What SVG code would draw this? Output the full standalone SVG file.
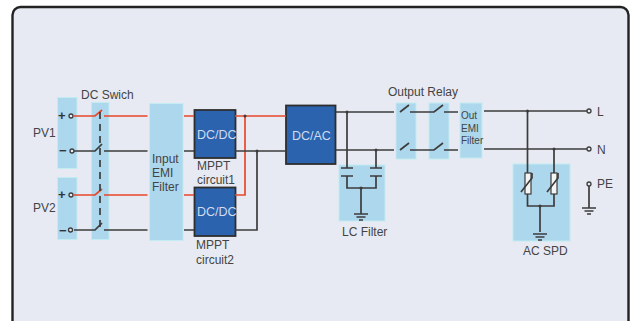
<svg xmlns="http://www.w3.org/2000/svg" width="635" height="321" viewBox="0 0 635 321">
<style>
text{font-family:"Liberation Sans",Arial,sans-serif;font-size:12px;fill:#444}
.b{fill:#add7ec;stroke:#c2ebf2;stroke-width:1}
.k{fill:none;stroke:#3c3c3c;stroke-width:1.7}
.r{fill:none;stroke:#e8472a;stroke-width:1.7}
.d{fill:#2b63ae;stroke:#2e2e2e;stroke-width:1.8}
.w{font-size:12.5px;fill:#cfdcf0}
.c{fill:#e6e9f3;stroke:#3c3c3c;stroke-width:1.3}
.v{fill:#f4f4f4;stroke:#3c3c3c;stroke-width:1.2}
.j{fill:#3c3c3c}
.s{font-weight:bold;font-size:13px;fill:#333}
</style>
<defs>
<g id="gnd"><path class="k" d="M-7 0H7M-4.500 3H4.500M-2 6H2"/></g>
</defs>
<rect x="0" y="0" width="635" height="321" fill="#fff"/>
<rect id="frame" x="12.500" y="7" width="616" height="330" rx="8" fill="#e7eaf2" stroke="#222" stroke-width="2.400"/>

<g id="pv1"><rect class="b" x="57.500" y="97.500" width="19.500" height="71"/><text x="33" y="137">PV1</text><text class="s" x="58" y="120">+</text><text class="s" x="59" y="155">−</text></g>
<g id="pv2"><rect class="b" x="57.500" y="177.500" width="19.500" height="62"/><text x="33" y="212">PV2</text><text class="s" x="58" y="199">+</text><text class="s" x="59" y="235">−</text></g>
<g id="dc-switch"><rect class="b" x="91.500" y="102.500" width="17.500" height="137"/><text x="81" y="99">DC Swich</text></g>
<g id="input-emi"><rect class="b" x="149.500" y="103.500" width="33.500" height="137"/><text x="152" y="163">Input</text><text x="152" y="177">EMI</text><text x="152" y="191">Filter</text></g>
<g id="dcdc1"><rect class="d" x="194.500" y="110" width="41" height="48"/><text class="w" x="197" y="139">DC/DC</text><text x="197" y="170">MPPT</text><text x="197" y="184">circuit1</text></g>
<g id="dcdc2"><rect class="d" x="194.500" y="187.500" width="41" height="48.500"/><text class="w" x="197" y="216">DC/DC</text><text x="196" y="249">MPPT</text><text x="196" y="264">circuit2</text></g>
<g id="dcac"><rect class="d" x="286" y="105.500" width="49.500" height="58.500"/><text class="w" x="292" y="140">DC/AC</text></g>
<g id="lc-filter"><rect class="b" x="339" y="165" width="46" height="56"/><text x="342" y="236">LC Filter</text></g>
<g id="relay1"><rect class="b" x="396" y="103" width="20" height="56"/><text x="388" y="96">Output Relay</text></g>
<g id="relay2"><rect class="b" x="429" y="103" width="20" height="56"/></g>
<g id="out-emi"><rect class="b" x="460" y="103" width="22" height="55"/><text x="461" y="119" style="font-size:10px">Out</text><text x="461" y="132" style="font-size:10px">EMI</text><text x="461" y="144" style="font-size:10px">Filter</text></g>
<g id="ac-spd"><rect class="b" x="513" y="164" width="57" height="77"/><text x="523" y="255">AC SPD</text></g>

<g id="connectors">
<path class="r" d="M74 116H95L102 110M104 116H147.500M184 116H194M235 116H286M245 116V195H235M74 195H95L102 189M104 195H147.500M184 195H194"/>
<path class="k" d="M74 151H95L102 144M104 151H147.500M184 151H194M74 230H95L102 223M104 230H147.500M184 230H194M235 151H286M257 151V230H235"/>
<path class="k" stroke-dasharray="7 5" d="M100 112V228"/>
<circle class="c" cx="71" cy="116" r="2"/><circle class="c" cx="72" cy="151" r="2"/><circle class="c" cx="71" cy="195" r="2"/><circle class="c" cx="70.500" cy="230" r="2"/>
<path class="k" d="M336 112H394M336 150H394M347 112V168M376 150V168M341 168H353M370 168H382M341 176H353M370 176H382M347 176V188H376V176M361 188V214"/>
<use href="#gnd" x="361" y="214"/>
<path class="k" d="M400 112L409 105M410 112H434L443 105M444 112H458M400 150L409 143M410 150H434L443 143M444 150H458M484 111H587M484 149H587M527.500 111V173M554 149V173M527.500 194V206H554V194M540 206V232M589 186V208"/>
<use href="#gnd" x="540" y="234"/>
<use href="#gnd" x="589" y="208"/>
<rect class="v" x="525" y="173" width="6" height="21"/>
<rect class="v" x="551" y="173" width="6" height="21"/>
<path class="k" d="M521 192L532 178V173M547 192L558 178V173"/>
<circle class="j" cx="245" cy="116" r="1.500"/><circle class="j" cx="257" cy="151" r="1.500"/><circle class="j" cx="347" cy="112" r="1.500"/><circle class="j" cx="376" cy="150" r="1.500"/><circle class="j" cx="361" cy="188" r="1.500"/><circle class="j" cx="527.500" cy="111" r="1.500"/><circle class="j" cx="554" cy="149" r="1.500"/><circle class="j" cx="540" cy="206" r="1.500"/>
<circle class="c" cx="589" cy="111" r="2"/><circle class="c" cx="589" cy="149" r="2"/><circle class="c" cx="589" cy="184" r="2"/>
</g>
<text x="597" y="116">L</text><text x="597" y="154">N</text><text x="597" y="188">PE</text>
</svg>
